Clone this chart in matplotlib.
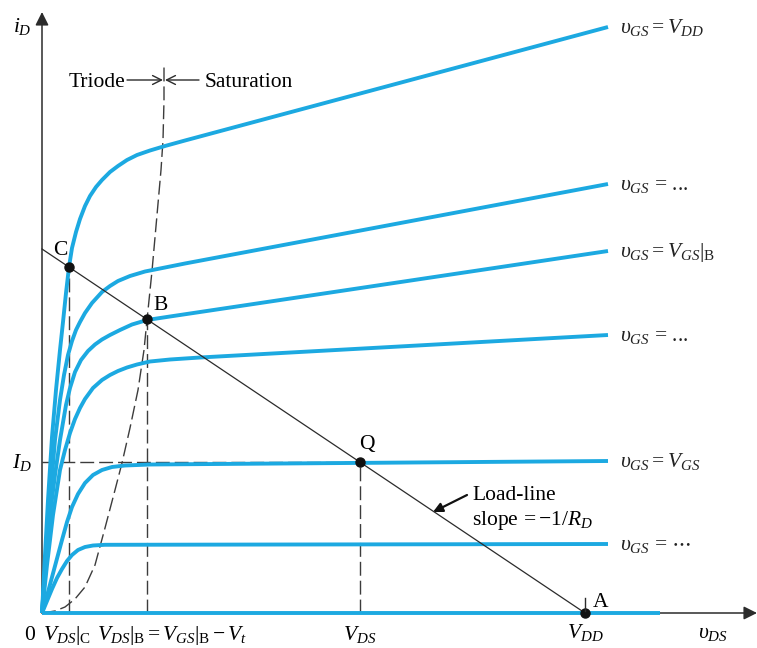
import matplotlib
matplotlib.use("Agg")
import matplotlib.pyplot as plt

# units: horizontal / vertical offsets from the origin of the drawing
v_dd = 543          # load line hits the v_DS axis here (point A)
i_max = 364         # load line hits the i_D axis here

# output characteristic curves, top to bottom
curve_labels = [r"$\upsilon_{GS} = V_{DD}$",
                r"$\upsilon_{GS}$ = ...",
                r"$\upsilon_{GS} = V_{GS}|_{\mathrm{B}}$",
                r"$\upsilon_{GS}$ = ...",
                r"$\upsilon_{GS} = V_{GS}$",
                r"$\upsilon_{GS}$ = $\cdots$"]
curve_v = [
    [0, 3, 6, 10, 14, 18, 21, 24, 27, 30, 34, 38, 43, 48, 54, 60, 68, 76, 85,
     95, 108, 123, 143, 566],
    [0, 4, 8, 13, 18, 22, 26, 30, 34, 38, 43, 50, 60, 68, 76, 88, 103, 123,
     143, 566],
    [0, 4, 8, 13, 18, 24, 28, 33, 39, 46, 53, 60, 68, 78, 90, 105, 128, 566],
    [0, 5, 11, 18, 23, 28, 33, 38, 43, 51, 60, 68, 76, 85, 95, 108, 128, 158,
     566],
    [0, 6, 13, 20, 25, 30, 36, 43, 51, 60, 70, 83, 108, 566],
    [0, 5, 10, 15, 20, 25, 30, 36, 43, 51, 63, 566],
]
curve_i = [
    [0, 58, 113, 176, 223, 263, 291, 320, 346, 365, 381, 394, 407, 417, 426,
     433, 441, 447, 453, 458, 462.5, 467, 472.5, 586],
    [0, 58, 113, 173, 213, 238, 258, 272, 283, 291, 300, 310, 321, 327, 332,
     337, 341.5, 345.5, 349.5, 429],
    [0, 53, 98, 138, 173, 208, 225, 241, 253, 262, 268.5, 273.5, 278, 283,
     288.5, 293, 296.5, 362],
    [0, 48, 98, 143, 163, 180, 194, 205, 214, 225, 233, 238, 242, 245.5, 248.5,
     251.5, 253.5, 255.5, 278],
    [0, 21, 47, 73, 91, 106, 119, 130, 138, 143, 146, 147.5, 148.5, 152],
    [0, 12, 24, 35, 44, 52, 58, 63, 66, 67.5, 68.2, 69],
]
cutoff_v = [0, 618]   # v_GS below V_t: i_D stays zero

# triode / saturation boundary (dashed)
edge_v = [0, 13, 23, 33, 43, 53, 63, 73, 80, 88, 96, 102, 105, 110, 115, 119,
          121, 122, 122]
edge_i = [0, 2, 6, 14, 26, 48, 85, 123, 150, 185, 223, 263, 293, 342, 398,
          443, 473, 513, 547]

# operating points on the load line
op_names = ["C", "B", "Q"]
op_v = [27, 105, 318]

plt.rcParams["font.family"] = ["Liberation Serif", "DejaVu Serif"]
plt.rcParams["mathtext.fontset"] = "custom"
plt.rcParams["mathtext.rm"] = "Liberation Serif"
plt.rcParams["mathtext.it"] = "Liberation Serif:italic"
plt.rcParams["mathtext.bf"] = "Liberation Serif:bold"

blue = "#1ca9e1"
ink = "#2b2b2b"
dash = "#3c3c3c"
fs = 15.5

fig = plt.figure(figsize=(7.57, 6.48), dpi=100)
ax = fig.add_axes([0, 0, 1, 1])
ax.set_xlim(-42, 715)
ax.set_ylim(-35, 613)
ax.axis("off")

# axes with arrow heads
ax.annotate("", xy=(715, 0), xytext=(0, 0),
            arrowprops=dict(arrowstyle="-|>", color=ink, lw=1.1,
                            mutation_scale=20, shrinkA=0, shrinkB=0))
ax.annotate("", xy=(0, 601), xytext=(0, 0),
            arrowprops=dict(arrowstyle="-|>", color=ink, lw=1.1,
                            mutation_scale=20, shrinkA=0, shrinkB=0))

# curves
for vs, cs, lab in zip(curve_v, curve_i, curve_labels):
    ax.plot(vs, cs, color=blue, lw=2.8, solid_capstyle="butt",
            solid_joinstyle="round", zorder=3)
    ax.text(vs[-1] + 12, cs[-1] - 6, lab, fontsize=fs, va="baseline",
            ha="left", color="#222222")
ax.plot(cutoff_v, [0, 0], color=blue, lw=2.8, solid_capstyle="butt", zorder=3)

# boundary between triode and saturation
ax.plot(edge_v, edge_i, color=dash, lw=1.0, dashes=(10, 3.6), zorder=2)

# load line
ax.plot([0, v_dd], [i_max, 0], color=ink, lw=0.9, zorder=4)

op_i = [i_max * (1 - v / v_dd) for v in op_v]
for v, c in zip(op_v, op_i):
    ax.plot([v, v], [0, c], color=dash, lw=1.0, dashes=(10, 3.6), zorder=2)
ax.plot([0, op_v[2]], [op_i[2], op_i[2]], color=dash, lw=1.0,
        dashes=(10, 3.6), zorder=2)
ax.plot(op_v + [v_dd], op_i + [0], "o", color="#111111", ms=6.5, zorder=5)
ax.plot([v_dd, v_dd], [2, 15], color=ink, lw=1.0, zorder=5)

# point labels
ax.text(11, 358, "C", fontsize=fs, va="baseline")
ax.text(111, 303, "B", fontsize=fs, va="baseline")
ax.text(317, 164, "Q", fontsize=fs, va="baseline")
ax.text(551, 6, "A", fontsize=fs, va="baseline")

# axis labels
ax.text(-29, 581, r"$i_D$", fontsize=fs, va="baseline")
ax.text(-10, 145, r"$I_D$", fontsize=fs, va="baseline", ha="right")
ax.text(-7, -27, "0", fontsize=fs, va="baseline", ha="right")
ax.text(1, -27, r"$V_{DS}|_{\mathrm{C}}$", fontsize=fs, va="baseline")
ax.text(55, -27, r"$V_{DS}|_{\mathrm{B}} = V_{GS}|_{\mathrm{B}} - V_t$",
        fontsize=fs, va="baseline")
ax.text(op_v[2], -27, r"$V_{DS}$", fontsize=fs, va="baseline", ha="center")
ax.text(v_dd, -25, r"$V_{DD}$", fontsize=fs, va="baseline", ha="center")
ax.text(656, -25, r"$\upsilon_{DS}$", fontsize=fs, va="baseline")

# triode / saturation marker
ax.text(83, 526, "Triode", fontsize=fs, va="baseline", ha="right")
ax.text(163, 526, "Saturation", fontsize=fs, va="baseline", ha="left")
ax.annotate("", xy=(121, 533), xytext=(85, 533),
            arrowprops=dict(arrowstyle="->", color=ink, lw=1.0,
                            mutation_scale=16, shrinkA=0, shrinkB=0))
ax.annotate("", xy=(123, 533), xytext=(157, 533),
            arrowprops=dict(arrowstyle="->", color=ink, lw=1.0,
                            mutation_scale=16, shrinkA=0, shrinkB=0))

# load-line note
ax.text(430, 113, "Load-line", fontsize=fs, va="baseline")
ax.text(430, 88, r"slope$\,= -1/R_D$", fontsize=fs, va="baseline")
ax.annotate("", xy=(391, 101), xytext=(425, 118),
            arrowprops=dict(arrowstyle="-|>", color="#111111", lw=1.6,
                            mutation_scale=14, shrinkA=0, shrinkB=0))

fig.savefig("out.png", dpi=100)
